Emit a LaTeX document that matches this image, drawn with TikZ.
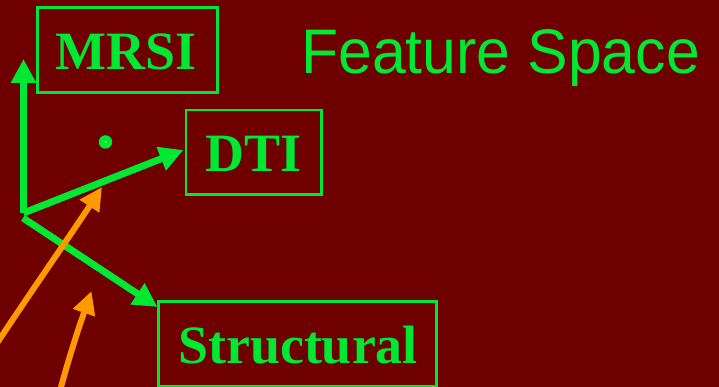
\documentclass[tikz,border=0pt]{standalone}
\usepackage{fontspec}
\setmainfont{Liberation Serif}
\newfontfamily\fsans{Liberation Sans}
\usetikzlibrary{arrows.meta}
\definecolor{bg}{RGB}{110,0,0}
\definecolor{fg}{RGB}{0,232,50}
\definecolor{og}{RGB}{255,153,0}
\begin{document}
\begin{tikzpicture}[x=1pt,y=-1pt,
  box/.style={draw=fg, line width=2.8pt, rectangle, inner sep=0pt, outer sep=0pt},
  lbl/.style={text=fg, font=\fontsize{54}{54}\selectfont\bfseries, inner sep=0pt, anchor=base},
  garrow/.style={draw=fg, line width=7pt, -{Triangle[length=24pt,width=24pt]}},
  oarrow/.style={draw=og, line width=6pt, -{Triangle[length=23pt,width=22pt]}}]
\fill[bg] (0,0) rectangle (719,387);
\useasboundingbox (0,0) rectangle (719,387);
% boxes
\node[box, minimum width=180pt, minimum height=85pt] (mrsi) at (127.4,49.7) {};
\node[box, minimum width=135.3pt, minimum height=84.7pt] (dti) at (253.7,152.3) {};
\node[box, minimum width=278pt, minimum height=84.7pt] (struct) at (297.7,343.7) {};
\node[lbl] (mrsit) at (126.5,70) {MRSI};
\node[lbl] (dtit) at (253.5,172) {DTI};
\node[lbl] (structt) at (298,363) {Structural};
% title
\node[text=fg, inner sep=0pt, anchor=base west, xscale=0.965,
  font=\fsans\fontsize{63}{63}\selectfont] (title) at (301,74) {Feature Space};
% dot
\node[circle, fill=fg, minimum size=13.5pt, inner sep=0pt] (dot) at (105.5,142) {};
\node[circle, fill=white, minimum size=2pt, inner sep=0pt] (dotc) at (105.5,142) {};
% axes
\coordinate (O) at (23.5,213);
\coordinate (O2) at (23,218);
\coordinate (tipV) at (23.5,59);
\coordinate (tipD) at (183.5,150);
\coordinate (tipS) at (157.5,307);
\draw[garrow] (O) -- (tipV);
\draw[garrow] (O) -- (tipD);
\draw[garrow] (O2) -- (tipS);
% orange arrows
\coordinate (a1s) at (-14,360);
\coordinate (a1e) at (102,187);
\coordinate (a2s) at (57,402);
\coordinate (a2e) at (91.5,291);
\draw[oarrow] (a1s) .. controls (25,300) and (70,236) .. (a1e);
\draw[oarrow] (a2s) .. controls (68,360) and (78,330) .. (a2e);
\end{tikzpicture}
\end{document}
